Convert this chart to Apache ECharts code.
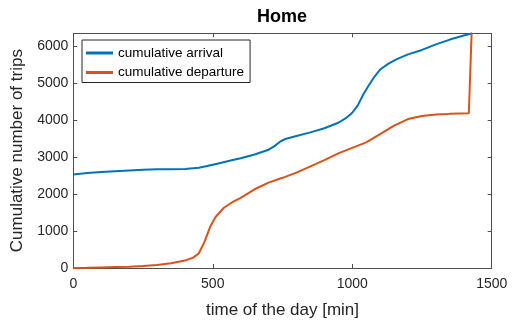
<!DOCTYPE html>
<html>
<head>
<meta charset="utf-8">
<script src="https://cdn.jsdelivr.net/npm/echarts@6/dist/echarts.min.js"></script>
<style>html,body{margin:0;padding:0;background:#fff;}#c{width:512px;height:324px;}</style>
</head>
<body>
<div id="c"></div>
<script>
var titleText = 'Home';
var xLabel = 'time of the day [min]';
var yLabel = 'Cumulative number of trips';
var seriesNames = ['cumulative arrival', 'cumulative departure'];
var xTicks = [0, 500, 1000, 1500];
var yTicks = [0, 1000, 2000, 3000, 4000, 5000, 6000];

var arrivalTime  = [0, 50, 100, 150, 200, 250, 300, 350, 400, 450, 480, 520, 560, 600, 650, 700, 720, 740, 760, 800, 850, 900, 950, 980, 1000, 1020, 1040, 1060, 1080, 1100, 1130, 1160, 1200, 1250, 1300, 1350, 1400, 1430];
var arrivalCount = [2530, 2570, 2600, 2620, 2640, 2660, 2670, 2670, 2680, 2710, 2760, 2830, 2900, 2970, 3070, 3200, 3290, 3410, 3490, 3570, 3670, 3780, 3930, 4070, 4200, 4400, 4700, 4950, 5180, 5370, 5530, 5650, 5780, 5900, 6050, 6180, 6290, 6350];

var departureTime  = [0, 50, 100, 150, 200, 250, 300, 350, 400, 430, 450, 470, 490, 510, 540, 570, 600, 650, 700, 750, 800, 850, 900, 950, 1000, 1050, 1100, 1150, 1200, 1250, 1300, 1350, 1418, 1428];
var departureCount = [0, 5, 15, 25, 35, 55, 80, 130, 200, 280, 400, 700, 1100, 1380, 1630, 1780, 1900, 2130, 2310, 2440, 2580, 2750, 2920, 3100, 3250, 3400, 3620, 3850, 4030, 4110, 4150, 4170, 4185, 6350];

var yMax = 6350;

function zip(a, b) { return a.map(function (v, i) { return [v, b[i]]; }); }

var axisColor = '#4d4d4d';
var textColor = '#262626';
var font = 'Liberation Sans, Arial, sans-serif';

function boxAxis(extra) {
  var base = {
    axisLine: { show: true, onZero: false, lineStyle: { color: axisColor, width: 1 } },
    axisTick: { show: true, inside: true, length: 4, lineStyle: { color: axisColor } },
    splitLine: { show: false }
  };
  for (var k in extra) base[k] = extra[k];
  return base;
}

var chart = echarts.init(document.getElementById('c'), null, { renderer: 'canvas' });
chart.setOption({
  animation: false,
  backgroundColor: '#fff',
  title: {
    text: titleText, left: 257, top: 8, padding: 0,
    textStyle: { fontFamily: font, fontSize: 18, fontWeight: 'bold', color: '#000' }
  },
  legend: {
    orient: 'vertical', left: 82, top: 40,
    padding: [6, 6, 3, 4], itemGap: 5.5,
    itemWidth: 27, itemHeight: 3, icon: 'rect',
    borderColor: '#262626', borderWidth: 1, backgroundColor: '#fff',
    textStyle: { fontFamily: font, fontSize: 13.5, color: '#000', lineHeight: 14 },
    data: seriesNames
  },
  grid: { left: 73.3, right: 20.3, top: 33.3, bottom: 55.7, containLabel: false },
  xAxis: [
    boxAxis({
      type: 'value', position: 'bottom', min: xTicks[0], max: xTicks[xTicks.length - 1], interval: 500,
      name: xLabel, nameLocation: 'middle', nameGap: 34,
      nameTextStyle: { fontFamily: font, fontSize: 17, color: textColor },
      axisLabel: { fontFamily: font, fontSize: 14, color: textColor, margin: 9,
        formatter: function (v) { return String(v); } }
    }),
    boxAxis({
      type: 'value', position: 'top', min: xTicks[0], max: xTicks[xTicks.length - 1], interval: 500,
      axisLabel: { show: false }
    })
  ],
  yAxis: [
    boxAxis({
      type: 'value', position: 'left', min: 0, max: yMax, interval: 1000,
      name: yLabel, nameLocation: 'middle', nameGap: 39,
      nameTextStyle: { fontFamily: font, fontSize: 17, color: textColor },
      axisLabel: {
        fontFamily: font, fontSize: 14, color: textColor, margin: 5,
        formatter: function (v) { return yTicks.indexOf(v) >= 0 ? String(v) : ''; }
      }
    }),
    boxAxis({
      type: 'value', position: 'right', min: 0, max: yMax, interval: 1000,
      axisLabel: { show: false }
    })
  ],
  series: [{
    name: seriesNames[0], type: 'line', showSymbol: false, symbol: 'none',
    data: zip(arrivalTime, arrivalCount),
    lineStyle: { color: '#0072BD', width: 2 }, itemStyle: { color: '#0072BD' }
  }, {
    name: seriesNames[1], type: 'line', showSymbol: false, symbol: 'none',
    data: zip(departureTime, departureCount),
    lineStyle: { color: '#D95319', width: 2 }, itemStyle: { color: '#D95319' }
  }]
});
</script>
</body>
</html>
